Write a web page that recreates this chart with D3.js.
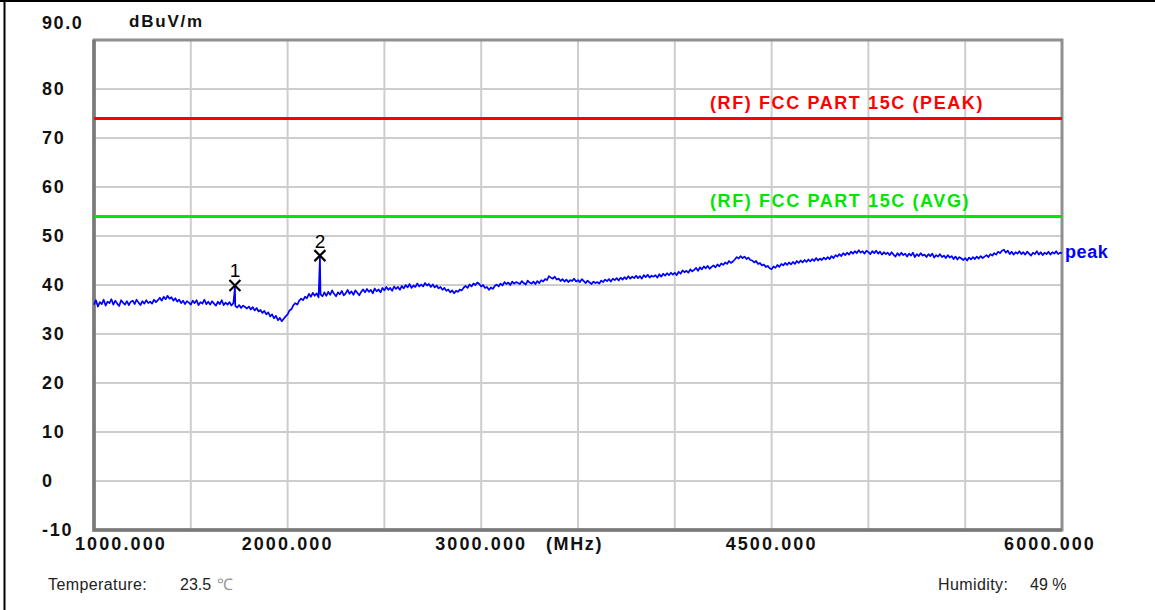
<!DOCTYPE html>
<html lang="en">
<head>
    <meta charset="UTF-8">
    <title>Radiated emission 1-6 GHz</title>
    <script src="https://cdn.jsdelivr.net/npm/d3@7"></script>
    <style>
        body { margin: 0; background: #fff; }
        .bold { font-family: "Liberation Sans", Arial, sans-serif; font-weight: bold; }
        .note { font-family: "Liberation Sans", Arial, sans-serif; font-size: 16px; fill: #222; }
    </style>
</head>
<body>
<script>
    // trace: 1000 MHz .. 6000 MHz, every 10 MHz (dBuV/m)
    const traceStart = 1000, traceStep = 10;
    const traceValues = [
        36.0, 36.9, 35.6, 36.5, 36.1, 37.0, 35.8, 36.6, 36.3, 37.1,
        36.0, 36.8, 36.2, 35.7, 36.9, 36.4, 36.0, 36.7, 35.9, 36.6,
        36.8, 36.1, 37.0, 36.4, 35.9, 36.7, 36.2, 36.9, 36.3, 36.6,
        36.2, 37.0, 36.5, 36.9, 37.4, 36.8, 37.6, 37.1, 37.8, 37.2,
        37.5, 36.8, 37.3, 36.6, 37.0, 36.3, 36.8, 36.1, 36.7, 36.4,
        36.0, 36.8, 36.3, 36.9, 35.9, 36.5, 36.2, 37.0, 36.1, 36.6,
        36.0, 36.7, 36.2, 35.8, 36.6, 36.1, 36.9, 35.9, 36.4, 36.0,
        36.5, 35.8, 36.3, 35.7, 35.4, 35.9, 35.3, 35.8, 35.5, 35.2,
        35.6, 35.0, 35.5, 34.8, 35.3, 34.6, 34.9, 34.3, 34.7, 34.0,
        34.4, 33.6, 34.0, 33.2, 33.7, 32.8, 33.3, 32.6, 33.1, 33.6,
        34.0, 34.8, 35.1, 35.9, 36.3, 36.0, 36.8, 37.2, 36.9, 37.6,
        37.3, 38.2, 37.6, 38.4, 37.8, 38.3, 37.5, 38.1, 37.7, 38.5,
        37.8, 38.6, 38.0, 38.9, 38.2, 37.7, 38.5, 38.1, 38.8, 37.9,
        38.3, 39.0, 38.2, 38.7, 38.0, 38.9, 38.4, 37.9, 38.6, 39.1,
        38.5, 39.2, 38.6, 39.0, 38.3, 39.3, 38.7, 39.1, 38.5, 39.4,
        38.9, 39.6, 39.0, 39.4, 38.8, 39.7, 39.2, 39.6, 39.0, 39.8,
        39.3, 40.0, 39.5, 40.2, 39.4, 39.9, 39.6, 40.3, 39.7, 40.1,
        39.7, 40.4, 39.9, 40.2, 39.6, 40.1, 39.5, 39.9, 39.3, 39.6,
        39.0, 39.4, 38.8, 39.1, 38.5, 38.9, 38.3, 38.8, 38.6, 39.1,
        38.9, 39.5, 39.8, 39.4, 40.1, 39.7, 40.3, 40.0, 40.5, 40.2,
        39.7, 40.0, 39.4, 39.6, 39.0, 39.5, 39.2, 39.8, 40.1, 39.7,
        40.3, 39.9, 40.6, 40.2, 40.5, 40.0, 40.7, 40.3, 40.6, 40.4,
        40.2, 40.8, 40.4, 40.1, 40.9, 40.5, 40.3, 40.7, 40.2, 40.8,
        40.4, 41.0, 40.7, 41.2, 41.0, 41.8, 41.5, 41.3, 41.7, 41.1,
        41.3, 40.8, 41.2, 40.7, 41.1, 40.6, 41.0, 40.8, 41.3, 40.7,
        41.0, 40.6, 41.2, 40.8, 40.4, 40.9, 40.5, 40.2, 40.7, 40.4,
        40.6, 40.3, 40.9, 40.6, 41.1, 40.8, 41.2, 40.7, 41.3, 41.0,
        41.4, 40.9, 41.5, 41.1, 41.6, 41.2, 41.8, 41.3, 41.7, 41.4,
        41.9, 41.4, 41.8, 41.3, 42.0, 41.6, 42.1, 41.5, 41.9, 41.7,
        42.0, 41.5, 42.2, 41.7, 42.3, 41.9, 42.4, 42.0, 42.5, 42.1,
        42.5, 42.0, 42.7, 42.3, 43.0, 42.6, 42.9, 42.5, 43.2, 42.8,
        43.1, 43.5, 42.9, 43.6, 43.2, 43.8, 43.4, 43.9, 43.3, 43.7,
        44.0, 43.6, 44.2, 43.8, 44.4, 44.1, 44.6, 44.3, 44.9, 44.5,
        44.8, 45.2, 45.7, 45.4, 45.9, 45.5, 45.8, 45.3, 45.6, 45.1,
        45.0, 44.6, 44.9, 44.3, 44.5, 44.0, 44.2, 43.7, 43.9, 43.4,
        43.2, 43.8, 43.5, 44.1, 43.7, 44.3, 44.0, 44.5, 44.1, 44.6,
        44.2, 44.7, 44.3, 44.9, 44.5, 45.0, 44.6, 45.1, 44.7, 45.2,
        44.8, 45.3, 44.9, 45.5, 45.0, 45.4, 45.1, 45.6, 45.2, 45.7,
        45.3, 45.9, 45.5, 46.1, 45.8, 46.3, 45.9, 46.5, 46.1, 46.6,
        46.2, 46.8, 46.4, 46.9, 46.5, 47.1, 46.6, 46.9, 46.4, 47.0,
        46.7, 46.3, 46.9, 46.5, 47.0, 46.4, 46.8, 46.2, 46.7, 46.3,
        46.6, 46.1, 46.7, 46.2, 45.8, 46.5, 46.0, 46.6, 46.1, 46.4,
        45.8, 46.4, 46.0, 46.6, 45.7, 46.3, 45.9, 46.5, 46.0, 46.2,
        45.7, 46.3, 45.9, 46.4, 45.6, 46.1, 45.8, 46.3, 45.7, 46.0,
        45.5, 46.1, 45.6, 45.9, 45.3, 45.8, 45.2, 45.7, 45.4, 45.1,
        45.5, 45.0, 45.6, 45.2, 45.7, 45.3, 45.8, 45.4, 45.9, 45.5,
        45.8, 46.1, 45.7, 46.3, 46.0, 46.5, 46.2, 46.8, 46.5, 47.0,
        47.2, 46.6, 47.0, 46.3, 46.8, 46.2, 46.7, 46.4, 46.9, 46.3,
        46.7, 46.2, 46.8, 46.4, 46.0, 46.6, 46.3, 46.9, 46.2, 46.7,
        46.1, 46.6, 46.3, 46.8, 46.2, 46.7, 46.4, 46.9, 46.3, 46.6,
        46.5
    ];

    // markers (MHz, dBuV/m)
    const markerNames = ["1", "2"];
    const markerFreqs = [1728, 2167];
    const markerLevels = [39.9, 46.0];

    // limit lines
    const limitNames = ["(RF) FCC PART 15C (PEAK)", "(RF) FCC PART 15C (AVG)"];
    const limitLevels = [74, 54];
    const limitColors = ["#ff0000", "#00e600"];

    const yTicks = [80, 70, 60, 50, 40, 30, 20, 10, 0, -10];
    const xGrid = [1000, 1500, 2000, 2500, 3000, 3500, 4000, 4500, 5000, 5500, 6000];
    const xLabels = ["1000.000", "2000.000", "3000.000", "4500.000", "6000.000"];
    const xLabelFreqs = [1000, 2000, 3000, 4500, 6000];

    const W = 1155, H = 610;
    const pL = 94, pR = 1062, pT = 40, pB = 530;

    const svg = d3.select("body").append("svg")
        .attr("width", W)
        .attr("height", H);

    const x = d3.scaleLinear().domain([1000, 6000]).range([pL, pR]);
    const y = d3.scaleLinear().domain([-10, 90]).range([pB, pT]);

    // outer border (top and left only visible)
    svg.append("line").attr("x1", 0).attr("x2", W).attr("y1", 1).attr("y2", 1)
        .attr("stroke", "#000").attr("stroke-width", 2);
    svg.append("line").attr("x1", 4.5).attr("x2", 4.5).attr("y1", 0).attr("y2", H)
        .attr("stroke", "#000").attr("stroke-width", 2);

    // grid
    svg.selectAll(".gx").data(xGrid.slice(1, -1)).enter().append("line")
        .attr("x1", d => x(d)).attr("x2", d => x(d))
        .attr("y1", pT).attr("y2", pB)
        .attr("stroke", "#cdcdcd").attr("stroke-width", 2);
    svg.selectAll(".gy").data(yTicks.slice(0, -1)).enter().append("line")
        .attr("x1", pL).attr("x2", pR)
        .attr("y1", d => y(d)).attr("y2", d => y(d))
        .attr("stroke", "#cdcdcd").attr("stroke-width", 2);

    // frame
    svg.append("rect")
        .attr("x", pL).attr("y", pT)
        .attr("width", pR - pL).attr("height", pB - pT)
        .attr("fill", "none").attr("stroke", "#909090").attr("stroke-width", 3);
    svg.append("path")
        .attr("d", `M${pL},${pT} V${pB} H${pR}`)
        .attr("fill", "none").attr("stroke", "#7a7a7a").attr("stroke-width", 3.5);

    // limit lines + labels
    limitLevels.forEach((lv, i) => {
        svg.append("line")
            .attr("x1", pL).attr("x2", pR)
            .attr("y1", y(lv)).attr("y2", y(lv))
            .attr("stroke", limitColors[i]).attr("stroke-width", 3);
        svg.append("text").attr("class", "bold")
            .attr("x", 710).attr("y", y(lv) - 9)
            .attr("font-size", 18).attr("letter-spacing", 1.6)
            .attr("fill", limitColors[i])
            .text(limitNames[i]);
    });

    // trace, with the marker spikes merged in
    const pts = traceValues.map((v, i) => [traceStart + i * traceStep, v]);
    markerFreqs.forEach((f, i) => pts.push([f, markerLevels[i] - 0.4]));
    pts.sort((a, b) => a[0] - b[0]);
    const line = d3.line().x(d => x(d[0])).y(d => y(d[1]));
    svg.append("path")
        .datum(pts)
        .attr("d", line)
        .attr("fill", "none")
        .attr("stroke", "#0000ff")
        .attr("stroke-width", 1.7)
        .attr("stroke-linejoin", "round");

    svg.append("text").attr("class", "bold")
        .attr("x", pR + 3).attr("y", y(traceValues[traceValues.length - 1]) + 5)
        .attr("font-size", 18).attr("letter-spacing", 0.6).attr("fill", "#0000ff")
        .text("peak");

    // markers
    markerFreqs.forEach((f, i) => {
        const cx = x(f), cy = y(markerLevels[i]);
        svg.append("path")
            .attr("d", `M${cx - 5.5},${cy - 5.5} L${cx + 5.5},${cy + 5.5} M${cx + 5.5},${cy - 5.5} L${cx - 5.5},${cy + 5.5}`)
            .attr("stroke", "#000").attr("stroke-width", 2.2);
        svg.append("text")
            .attr("x", cx).attr("y", cy - 8)
            .attr("text-anchor", "middle")
            .attr("font-family", "Liberation Sans, Arial, sans-serif")
            .attr("font-size", 19).attr("fill", "#000")
            .text(markerNames[i]);
    });

    // y axis labels
    svg.selectAll(".yl").data(yTicks).enter().append("text").attr("class", "bold")
        .attr("x", 42).attr("y", d => y(d) + 6)
        .attr("font-size", 18).attr("letter-spacing", 1.8)
        .attr("fill", "#111")
        .text(d => d);
    svg.append("text").attr("class", "bold")
        .attr("x", 42).attr("y", 29).attr("font-size", 18).attr("letter-spacing", 1.6)
        .attr("fill", "#111").text("90.0");
    svg.append("text").attr("class", "bold")
        .attr("x", 129).attr("y", 27).attr("font-size", 17).attr("letter-spacing", 1.8)
        .attr("fill", "#111").text("dBuV/m");

    // x axis labels
    xLabels.forEach((t, i) => {
        let xx = x(xLabelFreqs[i]), anchor = "middle";
        if (i === 0) { xx = 75; anchor = "start"; }
        if (i === xLabels.length - 1) { xx = 1096; anchor = "end"; }
        svg.append("text").attr("class", "bold")
            .attr("x", xx).attr("y", 550)
            .attr("text-anchor", anchor)
            .attr("font-size", 18).attr("letter-spacing", 2.1)
            .attr("fill", "#111")
            .text(t);
    });
    svg.append("text").attr("class", "bold")
        .attr("x", 546).attr("y", 550)
        .attr("font-size", 18).attr("letter-spacing", 1.6)
        .attr("fill", "#111").text("(MHz)");

    // footer
    svg.append("text").attr("class", "note").attr("x", 48).attr("y", 590).attr("letter-spacing", 0.4).text("Temperature:");
    svg.append("text").attr("class", "note").attr("x", 180).attr("y", 590).text("23.5");
    svg.append("text").attr("class", "note").attr("x", 217).attr("y", 590).style("fill", "#999").text("℃");
    svg.append("text").attr("class", "note").attr("x", 938).attr("y", 590).attr("letter-spacing", 0.4).text("Humidity:");
    svg.append("text").attr("class", "note").attr("x", 1030).attr("y", 590).text("49 %");
</script>
</body>
</html>
